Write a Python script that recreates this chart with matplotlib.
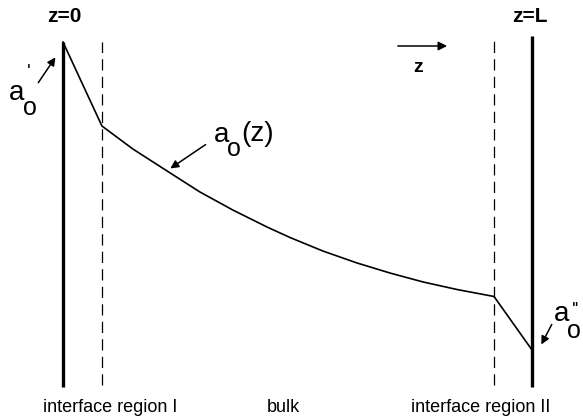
import matplotlib.pyplot as plt

plt.rcParams['font.family'] = 'Liberation Sans'

# profile a_o(z), z in units of L (walls at z=0 and z=L=1)
z = [0.0, 0.083, 0.149, 0.222, 0.292, 0.362, 0.435, 0.484, 0.554,
     0.627, 0.697, 0.768, 0.840, 0.919, 1.0]
a = [3.76, 2.92, 2.69, 2.47, 2.26, 2.08, 1.91, 1.805, 1.67,
     1.55, 1.45, 1.36, 1.285, 1.215, 0.68]

# boundaries of the interface regions
z_int1 = 0.083
z_int2 = 0.919

region_labels = ['interface region I', 'bulk', 'interface region II']
region_z = [0.100, 0.471, 0.891]

fig = plt.figure(figsize=(5.83, 4.18), dpi=100)
ax = fig.add_axes([0, 0, 1, 1])
ax.set_xlim(-0.1343, 1.1087)
ax.set_ylim(0, 4.18)
ax.axis('off')

# walls
ax.plot([0, 0], [0.31, 3.76], color='black', lw=2.4, solid_capstyle='butt')
ax.plot([1, 1], [0.31, 3.82], color='black', lw=2.4, solid_capstyle='butt')

# interface region boundaries
ax.plot([z_int1, z_int1], [0.33, 3.76], color='black', lw=0.9,
        dashes=(9, 5))
ax.plot([z_int2, z_int2], [0.33, 3.80], color='black', lw=0.9,
        dashes=(9, 5))

# the profile
ax.plot(z, a, color='black', lw=1.2)

# labels at the walls
ax.text(0.002, 4.01, 'z=0', ha='center', va='center', fontsize=15,
        fontweight='bold')
ax.text(0.9957, 4.01, 'z=L', ha='center', va='center', fontsize=15,
        fontweight='bold')

# direction arrow
ax.annotate('', xy=(0.825, 3.72), xytext=(0.708, 3.72),
            arrowprops=dict(arrowstyle='-|>', color='black', lw=1.1,
                            mutation_scale=13))
ax.text(0.757, 3.50, 'z', ha='center', va='center', fontsize=14,
        fontweight='bold')

arrow = dict(arrowstyle='-|>', color='black', lw=1.1, mutation_scale=12)

# a_o' at z=0
ax.annotate('', xy=(-0.0128, 3.63), xytext=(-0.0560, 3.33), arrowprops=arrow)
ax.text(-0.0990, 3.25, 'a', ha='center', va='center', fontsize=20)
ax.text(-0.0700, 3.10, 'o', ha='center', va='center', fontsize=18)
ax.text(-0.0740, 3.45, "'", ha='center', va='center', fontsize=14)

# a_o(z)
ax.annotate('', xy=(0.2239, 2.48), xytext=(0.309, 2.75), arrowprops=arrow)
ax.text(0.339, 2.83, 'a', ha='center', va='center', fontsize=20)
ax.text(0.3646, 2.69, 'o', ha='center', va='center', fontsize=18)
ax.text(0.3790, 2.84, '(z)', ha='left', va='center', fontsize=20)

# a_o'' at z=L
ax.annotate('', xy=(1.0171, 0.71), xytext=(1.0448, 0.96), arrowprops=arrow)
ax.text(1.0640, 1.04, 'a', ha='center', va='center', fontsize=20)
ax.text(1.0896, 0.87, 'o', ha='center', va='center', fontsize=18)
ax.text(1.0938, 1.08, "''", ha='center', va='center', fontsize=14)

# region labels
for lab, zz in zip(region_labels, region_z):
    ax.text(zz, 0.11, lab, ha='center', va='center', fontsize=13)

fig.savefig('out.png', dpi=100)
